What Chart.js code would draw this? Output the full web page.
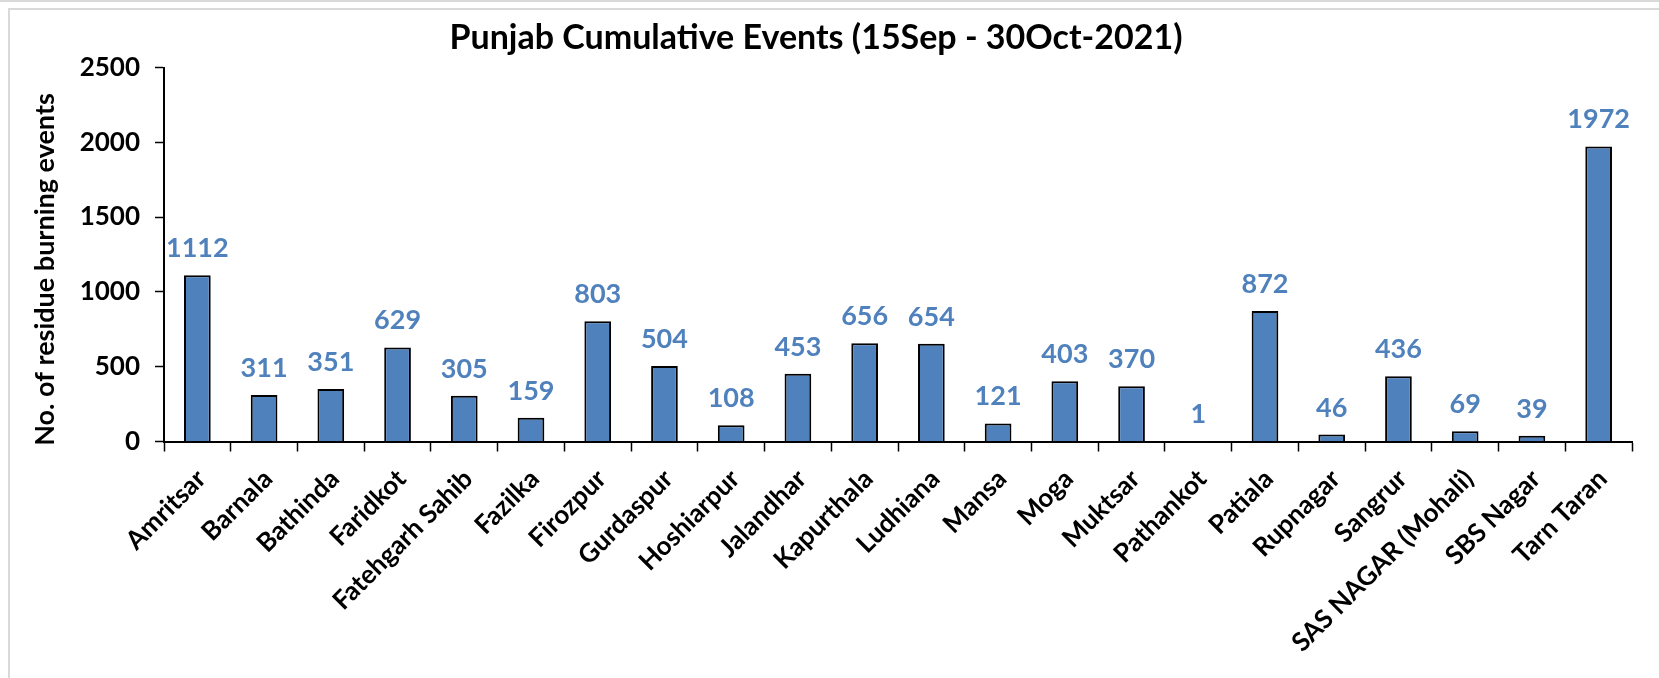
<!DOCTYPE html>
<html>
<head>
<meta charset="utf-8">
<title>Punjab Cumulative Events</title>
<script src="https://cdn.jsdelivr.net/npm/chart.js@4.4.1/dist/chart.umd.min.js"></script>
<style>
    html, body { margin: 0; padding: 0; background: #fff; }
    #wrap { position: relative; width: 1659px; height: 678px; overflow: hidden; }
    #eventsChart { position: absolute; left: 0; top: 0; }
    .edge { position: absolute; background: #d9d9d9; pointer-events: none; }
</style>
</head>
<body>
<div id="wrap">
    <canvas id="eventsChart" width="1659" height="678"></canvas>
    <div class="edge" style="left:0; top:0; width:1659px; height:2px;"></div>
    <div class="edge" style="left:9px; top:8px; width:1650px; height:2px;"></div>
    <div class="edge" style="left:8px; top:8px; width:2px; height:670px;"></div>
</div>
<script>
// Chart data
const districts = [
    'Amritsar', 'Barnala', 'Bathinda', 'Faridkot', 'Fatehgarh Sahib', 'Fazilka',
    'Firozpur', 'Gurdaspur', 'Hoshiarpur', 'Jalandhar', 'Kapurthala', 'Ludhiana',
    'Mansa', 'Moga', 'Muktsar', 'Pathankot', 'Patiala', 'Rupnagar', 'Sangrur',
    'SAS NAGAR (Mohali)', 'SBS Nagar', 'Tarn Taran'
];
const eventCounts = [
    1112, 311, 351, 629, 305, 159,
    803, 504, 108, 453, 656, 654,
    121, 403, 370, 1, 872, 46, 436,
    69, 39, 1972
];
const yTicks = [0, 500, 1000, 1500, 2000, 2500];

const titleText = 'Punjab Cumulative Events (15Sep - 30Oct-2021)';
const yTitleText = 'No. of residue burning events';

const FONT = 'Lato, "Open Sans", sans-serif';
const BAR_BLUE = '#4F81BD';

document.addEventListener('DOMContentLoaded', () => {
    initChart();
});

/**
 * Value labels above each bar
 */
const valueLabels = {
    id: 'valueLabels',
    afterDatasetsDraw(chart) {
        const ctx = chart.ctx;
        const meta = chart.getDatasetMeta(0);
        ctx.save();
        ctx.font = `bold 27px ${FONT}`;
        ctx.fillStyle = BAR_BLUE;
        ctx.textAlign = 'center';
        ctx.textBaseline = 'alphabetic';
        meta.data.forEach((bar, i) => {
            ctx.fillText(String(eventCounts[i]), bar.x, bar.y - 18);
        });
        ctx.restore();
    }
};

/**
 * Rotated y axis title (sits a little below the plot centre, like the original)
 */
const yAxisTitle = {
    id: 'yAxisTitle',
    afterDraw(chart) {
        const ctx = chart.ctx;
        const area = chart.chartArea;
        ctx.save();
        ctx.translate(45, (area.top + area.bottom) / 2 + 15);
        ctx.rotate(-Math.PI / 2);
        ctx.font = `bold 27px ${FONT}`;
        ctx.fillStyle = '#000';
        ctx.textAlign = 'center';
        ctx.textBaseline = 'middle';
        ctx.fillText(yTitleText, 0, 0);
        ctx.restore();
    }
};

/**
 * Initialize chart
 */
function initChart() {
    new Chart(document.getElementById('eventsChart'), {
        type: 'bar',
        data: {
            labels: districts,
            datasets: [
                {
                    label: 'Events',
                    data: eventCounts,
                    backgroundColor: BAR_BLUE,
                    borderColor: '#000',
                    borderWidth: 2,
                    barPercentage: 0.4,
                    categoryPercentage: 1.0
                }
            ]
        },
        options: {
            responsive: false,
            animation: false,
            layout: {
                padding: { left: 0, right: 27, top: 0, bottom: 0 }
            },
            plugins: {
                legend: { display: false },
                tooltip: { enabled: false },
                title: {
                    display: true,
                    text: titleText,
                    color: '#000',
                    font: { family: FONT, size: 34, weight: 'bold', lineHeight: 1.2 },
                    padding: { top: 18, bottom: 8.7 }
                }
            },
            scales: {
                x: {
                    grid: {
                        offset: true,
                        drawOnChartArea: false,
                        drawTicks: true,
                        tickLength: 10,
                        tickWidth: 1.5,
                        tickColor: '#000'
                    },
                    border: { color: '#000', width: 2 },
                    ticks: {
                        autoSkip: false,
                        minRotation: 45,
                        maxRotation: 45,
                        padding: 12,
                        labelOffset: 4,
                        color: '#000',
                        font: { family: FONT, size: 26, weight: 'bold' }
                    },
                    afterFit: (scale) => { scale.height = 678 - 441.5; }
                },
                y: {
                    min: 0,
                    max: 2500,
                    afterBuildTicks: (scale) => {
                        scale.ticks = yTicks.map(v => ({ value: v }));
                    },
                    grid: {
                        drawOnChartArea: false,
                        drawTicks: true,
                        tickLength: 9,
                        tickWidth: 1.5,
                        tickColor: '#000'
                    },
                    border: { color: '#000', width: 2 },
                    ticks: {
                        padding: 15,
                        color: '#000',
                        font: { family: FONT, size: 26, weight: 'bold' },
                        callback: (value) => String(value)
                    },
                    afterFit: (scale) => { scale.width = 164; }
                }
            }
        },
        plugins: [valueLabels, yAxisTitle]
    });
}
</script>
</body>
</html>
